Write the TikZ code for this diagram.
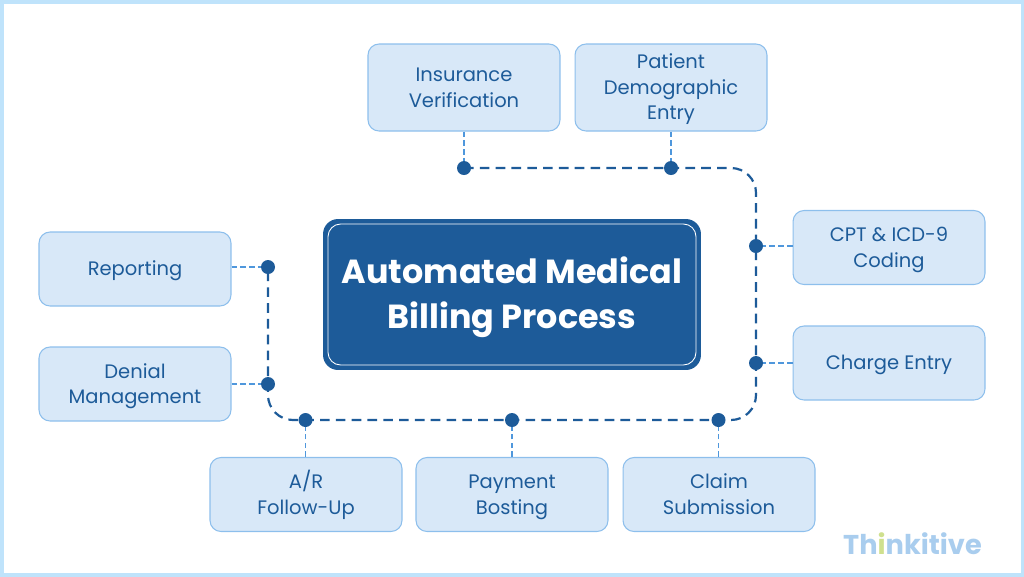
\documentclass[tikz,border=0pt]{standalone}
\usepackage{fontspec}
\setmainfont{Poppins}
\usetikzlibrary{positioning}
\definecolor{boxfill}{HTML}{D8E8F8}
\definecolor{boxline}{HTML}{8DBFEC}
\definecolor{navy}{HTML}{1D5B99}
\definecolor{stubblue}{HTML}{4F97DC}
\definecolor{framecol}{HTML}{BFE3FB}
\definecolor{logoblue}{HTML}{A9CDEE}
\definecolor{logogreen}{HTML}{CFE08E}
\tikzset{
    lift/.style={execute at begin node={\rule[-5pt]{0pt}{#1}}},
    stepbox/.style={draw=boxline,fill=boxfill,rounded corners=2.2mm,line width=0.6pt,
        text=navy,align=center,font=\fontsize{11.1}{14.7}\selectfont,
        minimum width=3.84cm,inner sep=0pt},
    shortbox/.style={stepbox,minimum height=1.48cm},
    tallbox/.style={stepbox,minimum height=1.74cm},
    joint/.style={circle,fill=navy,minimum size=0.28cm,inner sep=0pt},
    mainline/.style={navy,line width=1.25pt,dash pattern=on 5.5pt off 3.5pt},
    stub/.style={stubblue,line width=0.6pt,dash pattern=on 3.2pt off 1.8pt}
}
\begin{document}
\begin{tikzpicture}[x=0.02cm,y=-0.02cm]
    % Frame
    \useasboundingbox (0,0) rectangle (1024,576);
    \draw[framecol,line width=4pt] (0,0) rectangle (1024,576);

    % Title
    \node[fill=navy,rounded corners=3mm,minimum width=7.56cm,minimum height=3.02cm] (titlebase) at (512,294.5) {};
    \node[draw=white,line width=0.5pt,fill=navy,rounded corners=2.5mm,minimum width=7.36cm,minimum height=2.82cm,
        text=white,align=center,font=\fontsize{19}{25.5}\selectfont\bfseries,
        execute at begin node={\rule[-8pt]{0pt}{54.3pt}}] (title) at (512,294.5) {Automated Medical\\Billing Process};

    % Boxes
    \node[tallbox,lift=32.7pt] (insurance) at (464,87.5) {Insurance\\Verification};
    \node[tallbox,lift=46.8pt] (patient) at (671,87.5) {Patient\\Demographic\\Entry};
    \node[shortbox,lift=32.7pt] (coding) at (889,247.5) {CPT \& ICD-9\\Coding};
    \node[shortbox,lift=17.6pt] (charge) at (889,363) {Charge Entry};
    \node[shortbox,lift=17.6pt] (reporting) at (135,269) {Reporting};
    \node[shortbox,lift=32.7pt] (denial) at (135,384) {Denial\\Management};
    \node[shortbox,lift=32.7pt] (followup) at (306,494.5) {A/R\\Follow-Up};
    \node[shortbox,lift=32.7pt] (payment) at (512,494.5) {Payment\\Bosting};
    \node[shortbox,lift=32.7pt] (claim) at (719,494.5) {Claim\\Submission};

    % Joints
    \coordinate (jinsurance) at (464,168);
    \coordinate (jpatient) at (671,168);
    \coordinate (cornerne) at (756,168);
    \coordinate (jcoding) at (756,246);
    \coordinate (jcharge) at (756,363);
    \coordinate (cornerse) at (756,420);
    \coordinate (jclaim) at (718.5,420);
    \coordinate (jpayment) at (512,420);
    \coordinate (jfollowup) at (305.5,420);
    \coordinate (cornersw) at (268,420);
    \coordinate (jdenial) at (268,384);
    \coordinate (jreporting) at (268,267);

    % Main line
    \draw[mainline,rounded corners=5mm] (jinsurance) -- (cornerne) -- (cornerse) -- (cornersw) -- (jreporting);

    % Stubs
    \draw[stub] (insurance.south) -- (jinsurance);
    \draw[stub] (patient.south) -- (jpatient);
    \draw[stub] (coding.west |- jcoding) -- (jcoding);
    \draw[stub] (charge.west) -- (jcharge);
    \draw[stub] (claim.north -| jclaim) -- (jclaim);
    \draw[stub] (payment.north) -- (jpayment);
    \draw[stub] (followup.north -| jfollowup) -- (jfollowup);
    \draw[stub] (denial.east) -- (jdenial);
    \draw[stub] (reporting.east |- jreporting) -- (jreporting);

    \foreach \j in {jinsurance,jpatient,jcoding,jcharge,jclaim,jpayment,jfollowup,jdenial,jreporting}
        \node[joint] at (\j) {};

    % Logo
    \node[text=logoblue,font=\fontsize{15.5}{18}\selectfont\bfseries] (logo) at (912.5,544) {Th{\color{logogreen}i}nkitive};
\end{tikzpicture}
\end{document}
